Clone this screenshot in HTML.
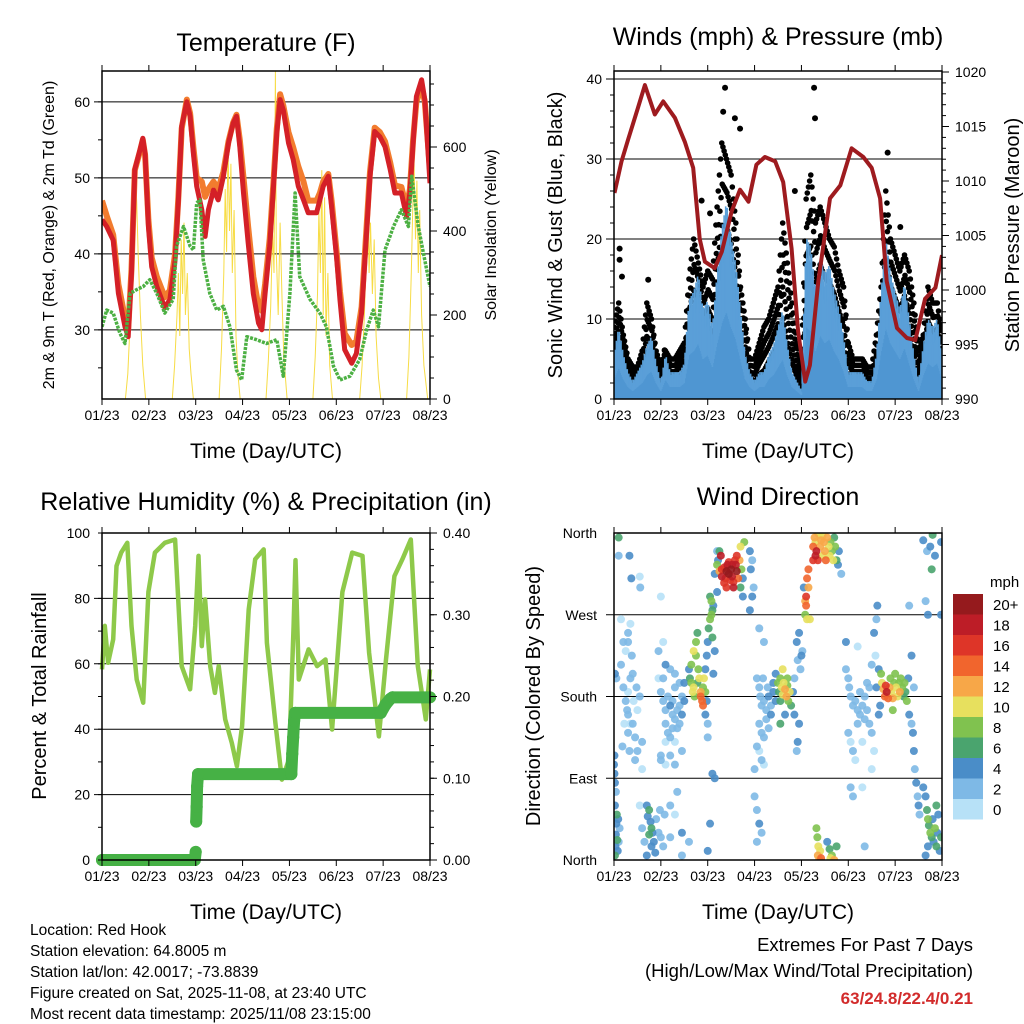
<!DOCTYPE html>
<html><head><meta charset="utf-8"><style>
html,body{margin:0;padding:0;background:#fff;}
svg{display:block;font-family:"Liberation Sans",Arial,sans-serif;}
</style></head><body>
<svg id="c" width="1024" height="1024" viewBox="0 0 1024 1024" xmlns="http://www.w3.org/2000/svg">
<g font-size="25" text-anchor="middle" fill="#000">
<text x="266" y="51">Temperature (F)</text>
<text x="778" y="45">Winds (mph) &amp; Pressure (mb)</text>
<text x="266" y="510">Relative Humidity (%) &amp; Precipitation (in)</text>
<text x="778" y="505">Wind Direction</text>
</g>
<g fill="#000" text-anchor="middle">
<text x="266" y="458" font-size="21">Time (Day/UTC)</text>
<text x="778" y="458" font-size="21">Time (Day/UTC)</text>
<text x="266" y="919" font-size="21">Time (Day/UTC)</text>
<text x="778" y="919" font-size="21">Time (Day/UTC)</text>
<text transform="translate(54,235) rotate(-90)" font-size="16">2m &amp; 9m T (Red, Orange) &amp; 2m Td (Green)</text>
<text transform="translate(496,235) rotate(-90)" font-size="16">Solar Insolation (Yellow)</text>
<text transform="translate(562,235) rotate(-90)" font-size="20">Sonic Wind &amp; Gust (Blue, Black)</text>
<text transform="translate(1019,235) rotate(-90)" font-size="20">Station Pressure (Maroon)</text>
<text transform="translate(46,696) rotate(-90)" font-size="20">Percent &amp; Total Rainfall</text>
<text transform="translate(540,696) rotate(-90)" font-size="20">Direction (Colored By Speed)</text>
</g>
<g font-size="15.5" fill="#000">
<text x="30" y="935">Location: Red Hook</text>
<text x="30" y="956">Station elevation: 64.8005 m</text>
<text x="30" y="977">Station lat/lon: 42.0017; -73.8839</text>
<text x="30" y="998">Figure created on Sat, 2025-11-08, at 23:40 UTC</text>
<text x="30" y="1019">Most recent data timestamp: 2025/11/08 23:15:00</text>
</g>
<g text-anchor="end">
<text x="973" y="951" font-size="18.5">Extremes For Past 7 Days</text>
<text x="973" y="977" font-size="18.5">(High/Low/Max Wind/Total Precipitation)</text>
<text x="973" y="1004" font-size="17" font-weight="bold" fill="#d22b2b">63/24.8/22.4/0.21</text>
</g>
<g id="dyn"></g>
</svg>
<script>
// ---------- DATA ----------
const dayTicks = ["01/23","02/23","03/23","04/23","05/23","06/23","07/23","08/23"];
const tDays = [0,0.10,0.24,0.35,0.49,0.56,0.63,0.70,0.81,0.87,0.92,0.99,1.06,1.17,1.34,1.45,1.56,1.63,1.70,1.81,1.88,1.95,2.02,2.13,2.20,2.27,2.38,2.48,2.59,2.70,2.80,2.87,2.94,3.02,3.12,3.23,3.34,3.41,3.48,3.58,3.66,3.73,3.80,3.87,3.98,4.08,4.19,4.30,4.40,4.58,4.65,4.72,4.83,4.90,5.01,5.08,5.18,5.33,5.43,5.54,5.61,5.72,5.82,5.93,6.04,6.15,6.25,6.39,6.50,6.57,6.64,6.71,6.82,6.89,7.0];
const temp2m = [44.5,43.6,41.8,34.8,30.4,29.1,37.5,51.1,53.7,55.2,53.2,43.6,38.3,35.7,32.9,34.0,39.2,47.1,56.8,60.0,58.1,53.2,48.9,45.8,42.3,45.8,48.4,47.1,50.2,54.6,57.2,58.1,54.1,48.0,41.4,34.8,30.9,30.0,34.8,41.0,48.9,55.9,60.3,58.9,54.6,52.4,48.9,47.1,45.4,45.4,47.1,48.9,50.2,46.2,39.2,33.9,27.4,25.6,26.9,32.2,39.2,50.2,56.1,55.4,54.1,51.1,48.0,48.0,44.9,48.0,54.6,60.7,62.9,60.3,49.3];
const temp9m = [47.0,45.0,42.5,36.0,31.5,30.0,38.0,51.0,53.5,55.0,53.0,44.5,39.5,37.0,34.3,35.2,40.0,47.5,56.5,60.3,58.5,54.0,50.0,49.5,47.5,48.5,49.5,48.5,50.8,54.8,57.3,58.3,55.0,50.0,43.5,37.0,33.0,32.5,36.0,42.0,49.5,56.5,61.0,59.5,56.0,54.0,51.5,49.5,47.0,47.0,48.0,49.5,50.5,47.0,40.0,35.0,29.5,28.0,28.5,33.0,40.0,50.8,56.6,56.0,54.8,52.0,49.0,48.8,46.0,48.5,55.0,60.0,62.0,60.0,51.0];
const tdDays = [0,0.10,0.24,0.38,0.49,0.60,0.74,0.88,1.02,1.17,1.34,1.52,1.59,1.74,1.88,1.95,2.02,2.09,2.16,2.30,2.45,2.59,2.73,2.87,2.98,3.09,3.30,3.51,3.73,3.87,4.01,4.12,4.22,4.44,4.65,4.79,4.94,5.08,5.29,5.50,5.65,5.79,5.90,6.04,6.22,6.39,6.54,6.61,6.75,6.86,7.0];
const dewpt = [30.4,32.6,32.2,29.6,28.2,34.8,35.3,35.7,36.6,34.8,32.2,34.0,41.0,43.6,41.0,40.5,46.7,47.1,39.2,34.8,32.6,33.1,30.4,24.7,23.4,29.1,28.7,28.2,28.7,23.9,34.8,48.0,37.0,34.0,32.2,30.4,25.2,23.4,23.9,26.1,30.0,32.6,30.4,40.5,43.6,45.8,43.6,50.2,43.6,40.1,35.7];
const solarDays = [0,0.5,0.55,0.6,0.64,0.68,0.71,0.74,0.77,0.82,0.87,0.93,1.5,1.55,1.6,1.63,1.66,1.69,1.72,1.75,1.78,1.82,1.86,1.9,1.95,2.5,2.55,2.6,2.63,2.66,2.69,2.72,2.75,2.78,2.82,2.86,2.9,2.95,3.5,3.55,3.6,3.64,3.67,3.7,3.72,3.76,3.8,3.84,3.88,3.95,4.5,4.55,4.6,4.63,4.66,4.69,4.72,4.75,4.78,4.82,4.86,4.92,5.5,5.55,5.6,5.64,5.67,5.7,5.73,5.77,5.81,5.85,5.9,5.95,6.5,6.55,6.6,6.63,6.66,6.69,6.72,6.75,6.78,6.82,6.87,6.95,7.0];
const solarVals = [0,0,60,180,330,450,540,470,350,200,80,0,0,80,200,300,150,380,250,420,200,300,120,60,0,0,120,300,500,350,610,400,560,300,450,150,60,0,0,90,220,400,300,780,350,200,420,250,100,0,0,100,250,450,300,545,200,480,150,300,80,0,0,80,200,350,466,300,420,250,380,150,50,0,0,100,300,450,560,380,520,300,450,200,80,0,0];
const windMean = [5,8,5,3,2,3,4,6,7,4,2,5,3,3,3,4,11,12,14,10,11,8,14,19,22,18,15,10,5,3,2,3,3,5,6,8,10,6,3,2,1,18,17,12,16,14,15,12,10,7,3,3,3,3,2,2,5,12,18,14,12,10,13,9,5,2,6,9,8,9,5];
const windGust = [9,12,8,5,4,4,6,12,10,6,4,6,5,5,6,7,15,20,17,14,16,15,24,32,30,28,22,14,10,5,5,7,9,10,12,14,22,17,12,7,4,25,28,22,24,22,20,19,16,14,7,5,5,5,4,4,8,14,26,20,18,16,18,16,12,6,8,14,12,12,8];
const gustOutDays = [2.37,2.33,2.58,2.69,4.27,4.29,0.12,0.12,0.17,0.73,2.05,3.86,5.84,6.11,1.87,1.08];
const gustOutVals = [38.9,35.9,35.1,33.8,38.9,35.1,18.8,17.4,15.3,14.9,23.2,26,30.8,21.5,24.8,6.1];
const presDays = [0.01,0.16,0.30,0.51,0.66,0.87,1.05,1.30,1.51,1.69,1.83,1.94,2.15,2.30,2.51,2.69,2.87,3.04,3.22,3.44,3.61,3.79,3.93,4.08,4.18,4.36,4.61,4.83,5.07,5.32,5.50,5.68,5.82,6.04,6.25,6.43,6.64,6.86,7.0];
const presVals = [1008.9,1011.8,1013.8,1016.7,1018.8,1016.1,1017.3,1015.8,1013.6,1011.2,1004.7,1002.6,1002.0,1003.5,1007.2,1009.2,1008.1,1011.5,1012.2,1011.8,1009.9,1003.8,996.2,991.6,993.1,1000.8,1008.4,1009.6,1013.0,1012.2,1011.2,1008.4,1000.8,996.5,995.6,995.4,999.2,1000.2,1003.2];
const rhDays = [0,0.06,0.13,0.24,0.31,0.41,0.54,0.63,0.74,0.88,0.99,1.13,1.34,1.56,1.70,1.88,1.99,2.06,2.13,2.20,2.31,2.41,2.49,2.63,2.77,2.88,2.99,3.13,3.27,3.45,3.52,3.70,3.84,3.99,4.09,4.13,4.20,4.41,4.59,4.77,4.91,5.13,5.34,5.56,5.70,5.91,6.06,6.24,6.41,6.59,6.74,6.91,7.0];
const rhVals = [58.3,71.6,60.3,67.5,89.9,94,97,71.6,55.2,48.1,82,94,97,98,59.3,52.2,71.6,93,65.4,79.7,59.3,51.1,59.3,43,35.8,28.7,41,76.6,92,95,66.4,41.9,24.6,30.7,71.6,91.7,55.2,64.4,59.3,61.3,39.9,82,94,93,63.4,37.8,61.3,86.8,92,98,59.3,43,58.3];
const precDays = [0,1.98,2.0,2.01,2.02,2.03,2.05,4.04,4.06,4.08,4.10,4.12,5.95,6.05,6.15,6.2,7.0];
const precVals = [0,0,0.01,0.047,0.065,0.09,0.105,0.105,0.13,0.15,0.17,0.18,0.18,0.19,0.197,0.199,0.199];
const windDirObs = [
[0.02,5,6],[0.03,15,4],[0.04,28,5],[0.05,40,4],[0.06,50,6],[0.02,60,4],[0.07,22,7],[0.08,10,4],[0.04,75,3],[0.01,95,4],[0.0,105,5],[0.01,115,4],[0.02,85,5],[0.1,20,3],[0.12,35,2],[0.09,45,4],
[0.1,355,6],[0.1,335,2],[0.33,335,4],[0.37,310,4],[0.55,312,1],[0.56,300,2],[1.0,290,1],
[0.02,205,4],[0.05,200,2],[0.15,215,3],[0.2,190,2],[0.3,185,1],[0.25,175,3],[0.3,160,2],[0.35,150,1],[0.3,140,2],[0.4,150,2],[0.45,135,3],[0.5,165,1],[0.5,120,2],[0.45,110,2],[0.6,130,2],[0.6,100,1],[0.55,180,2],[0.35,200,2],[0.25,230,1],[0.3,240,2],[0.38,225,3],[0.4,205,2],[0.28,165,2],[0.33,120,3],[0.42,175,1],[0.48,190,2],[0.22,150,1],[0.18,125,2],[0.2,240,3],[0.15,265,1],[0.3,250,2],[0.35,260,1],
[0.7,60,5],[0.72,48,4],[0.75,55,6],[0.78,42,4],[0.8,35,6],[0.82,30,5],[0.75,28,6],[0.85,20,4],[0.8,15,4],[0.88,8,5],[0.9,45,3],[0.95,30,2],[1.0,25,3],[1.05,15,2],[0.65,20,2],[0.7,5,4],[0.6,35,2],[1.08,50,2],[0.55,60,1],[0.98,55,3],[1.2,60,2],[1.3,50,1],[1.2,25,2],[1.45,30,4],[1.45,5,3],[1.6,20,2],[1.35,75,2],
[1.0,185,3],[1.05,175,2],[1.1,165,3],[1.15,180,2],[1.2,170,4],[1.25,160,3],[1.3,155,2],[1.25,175,3],[1.35,165,3],[1.4,170,2],[1.45,180,3],[1.5,175,4],[1.1,150,2],[1.15,140,3],[1.2,135,2],[1.3,130,1],[1.35,145,3],[1.1,130,1],[1.0,115,2],[1.2,115,2],[1.4,195,3],[1.5,195,4],[1.3,190,3],[1.05,200,2],[1.25,145,2],[1.4,150,3],[1.45,160,4],[0.95,230,2],[1.05,240,1],[1.1,215,4],[1.2,210,3],[1.3,205,3],[0.95,200,1],[1.0,110,3],[1.1,105,1],[1.3,105,2],[1.45,120,2],
[1.6,210,4],[1.62,200,6],[1.65,195,9],[1.68,185,10],[1.7,190,11],[1.72,180,9],[1.75,225,8],[1.75,240,8],[1.78,250,7],[1.8,210,9],[1.82,200,10],[1.85,185,12],[1.88,175,15],[1.85,180,14],[1.9,170,14],[1.9,190,9],[1.92,200,11],[1.7,230,10],[1.65,215,8],[1.78,195,6],[1.95,185,8],[1.98,175,4],[1.95,160,4],[2.0,150,3],
[1.95,210,4],[1.98,225,4],[2.0,240,5],[2.02,255,6],[2.05,265,8],[2.08,270,8],[2.1,275,7],[2.05,290,7],[2.08,285,9],[2.12,280,5],[2.1,245,6],[2.15,230,5],[2.12,205,4],[2.1,95,4],[2.15,90,5],[2.05,40,4],[2.0,10,4],[2.15,315,4],[2.2,340,2],[2.0,135,2],
[2.2,325,9],[2.25,318,12],[2.28,335,19],[2.3,320,17],[2.35,322,17],[2.38,310,16],[2.4,318,20],[2.42,325,18],[2.45,315,20],[2.48,308,17],[2.5,320,20],[2.52,312,18],[2.55,306,16],[2.58,330,16],[2.6,325,18],[2.62,318,20],[2.62,335,16],[2.65,310,15],[2.68,330,12],[2.7,345,10],[2.72,320,8],[2.7,300,7],[2.75,290,5],[2.75,310,4],[2.35,305,16],[2.45,328,17],[2.55,300,18],[2.3,312,18],[2.4,300,16],[2.52,325,19],[2.22,330,4],[2.2,295,4],[2.78,350,8],[2.25,340,6],
[2.9,340,4],[2.95,330,2],[2.92,320,4],[2.95,290,4],[2.98,300,2],[2.9,275,4],
[3.05,200,3],[3.1,190,2],[3.12,180,3],[3.15,170,2],[3.2,175,3],[3.25,165,2],[3.3,180,4],[3.35,170,3],[3.4,185,4],[3.45,175,4],[3.1,150,2],[3.15,140,3],[3.2,135,2],[3.25,155,3],[3.3,145,2],[3.35,160,4],[3.4,195,5],[3.45,205,4],[3.05,125,2],[3.1,120,1],[3.15,110,2],[3.2,105,1],[3.0,70,2],[3.05,55,3],[3.1,40,4],[3.15,30,3],[3.05,20,2],[3.0,100,2],[3.2,240,3],[3.1,255,2],[3.18,200,3],[3.28,190,2],
[3.5,195,8],[3.52,185,6],[3.55,200,9],[3.58,190,10],[3.6,182,11],[3.62,195,10],[3.65,188,12],[3.68,180,12],[3.7,192,9],[3.72,175,8],[3.75,185,10],[3.78,170,6],[3.6,210,11],[3.55,175,6],[3.7,200,8],[3.65,160,4],[3.55,150,6],[3.82,185,4],[3.85,160,4],[3.85,200,3],
[3.9,240,4],[3.92,220,3],[3.95,250,4],[3.98,210,3],[4.0,225,4],[4.02,230,3],[4.05,300,5],[4.08,270,9],[4.1,280,14],[4.12,265,10],[4.1,290,16],[4.15,300,12],[4.12,310,14],[4.08,285,13],[4.15,320,15],[4.18,265,11],[3.95,150,4],[3.92,130,4],[3.9,120,2],
[4.25,345,15],[4.28,355,12],[4.3,350,10],[4.32,340,18],[4.35,330,17],[4.38,358,11],[4.4,345,13],[4.42,352,12],[4.45,335,10],[4.48,350,13],[4.5,340,12],[4.55,355,13],[4.58,345,10],[4.6,335,11],[4.62,350,9],[4.65,340,8],[4.68,330,10],[4.7,355,6],[4.72,345,8],[4.75,330,6],[4.78,325,4],[4.8,340,4],[4.85,315,2],[4.45,357,11],[4.52,330,14],[4.35,360,10],[4.25,330,16],[4.3,335,18],
[4.32,35,8],[4.34,25,9],[4.36,15,10],[4.35,5,12],[4.38,0,13],[4.4,10,11],[4.42,2,14],[4.6,12,6],[4.65,5,8],[4.7,0,12],[4.75,15,6],[4.62,2,10],[4.55,20,4],
[4.95,210,3],[5.0,200,2],[5.02,190,3],[5.05,180,2],[5.1,170,3],[5.15,175,2],[5.2,165,3],[5.25,160,2],[5.3,170,3],[5.35,155,2],[5.4,165,3],[5.45,150,2],[5.0,140,2],[5.05,130,1],[5.1,120,2],[5.15,110,1],[5.2,150,2],[5.3,130,1],[5.5,140,2],[5.55,120,1],[5.25,185,2],[5.35,180,2],[5.4,195,2],[5.05,80,2],[5.1,70,3],[5.3,80,1],[5.35,15,2],[5.5,100,1],[5.45,190,3],[5.5,215,2],[5.2,235,1],[4.95,240,4],
[5.55,250,4],[5.6,265,2],[5.62,280,4],[5.58,225,1],[5.65,210,4],[5.6,190,4],
[5.7,205,8],[5.72,195,10],[5.75,188,12],[5.78,180,14],[5.8,192,16],[5.82,185,18],[5.85,178,14],[5.88,190,12],[5.9,200,8],[5.92,185,10],[5.95,178,12],[5.98,195,8],[6.0,205,8],[6.02,190,10],[6.05,180,10],[6.08,195,9],[6.1,185,12],[6.12,200,8],[6.15,190,9],[6.18,180,7],[6.2,195,8],[6.22,185,6],[6.25,175,8],[5.68,170,4],[5.65,160,4],[6.28,200,4],[5.95,165,9],
[6.3,160,4],[6.35,150,2],[6.38,140,4],[6.4,120,4],[6.42,100,3],[6.45,85,4],[6.48,70,2],[6.5,60,4],[6.52,50,2],[6.3,280,2],[6.35,225,4],[6.4,190,2],
[6.6,80,4],[6.65,70,4],[6.68,55,6],[6.7,45,8],[6.72,38,6],[6.75,30,8],[6.78,25,6],[6.8,45,4],[6.82,20,4],[6.85,35,8],[6.88,15,6],[6.9,30,4],[6.92,50,4],[6.95,10,4],[6.98,25,6],[6.65,5,4],[6.7,15,4],[6.88,60,6],
[6.6,352,4],[6.68,340,2],[6.8,358,6],[6.75,345,4],[6.85,335,4],[6.78,320,6],[6.7,270,4],[6.65,285,2],[6.98,350,4],[6.98,270,4]
];
const speedBins = ["0","2","4","6","8","10","12","14","16","18","20+"];
const speedColors = ["#b7e1f7","#7eb9e6","#4a8dc8","#4aa46e","#80c24f","#e7e05e","#f7a748","#f1652d","#de3528","#bd1d27","#951a1d"];

// ---------- RENDER ----------
const NS="http://www.w3.org/2000/svg";
const root=document.getElementById('dyn');
function mk(tag,attrs,parent){const e=document.createElementNS(NS,tag);for(const k in attrs)e.setAttribute(k,attrs[k]);(parent||root).appendChild(e);return e;}
function grp(name){const g=mk('g',{});return g;}
function pts(xs,ys,fx,fy){return xs.map((d,i)=>fx(d).toFixed(1)+','+fy(ys[i]).toFixed(1)).join(' ');}

function frame(L,T,R,B,name){
  const g=grp(name);
  mk('rect',{x:L,y:T,width:R-L,height:B-T,fill:'none',stroke:'#000','stroke-width':1.5},g);
  const step=(R-L)/7;
  const tg=grp(name+'-x-ticks');
  for(let i=0;i<8;i++){const x=L+i*step;
    mk('line',{x1:x,y1:B,x2:x,y2:B+6,stroke:'#000','stroke-width':1},tg);
    mk('line',{x1:x,y1:T,x2:x,y2:T-6,stroke:'#000','stroke-width':1},tg);
    const t=mk('text',{x:x,y:B+21,'font-size':14,'text-anchor':'middle'},tg);t.textContent=dayTicks[i];
    
    
  }
}
function hgrid(L,R,ys,name){const g=grp(name);ys.forEach(y=>mk('line',{x1:L-8,y1:y,x2:R,y2:y,stroke:'#000','stroke-width':1},g));}
function leftLabels(x,vals,fy,name,mn,mx,minorStep,L){
  const g=grp(name);
  vals.forEach(v=>{const t=mk('text',{x:x,y:fy(v)+5,'font-size':14,'text-anchor':'end'},g);t.textContent=v;
    
    });
  if(minorStep){for(let v=mn;v<=mx+1e-6;v+=minorStep){mk('line',{x1:L-4,y1:fy(v),x2:L,y2:fy(v),stroke:'#000'},g);}}
}
function rightLabels(x,vals,labels,fy,name,mn,mx,minorStep,R){
  const g=grp(name);
  vals.forEach((v,i)=>{const t=mk('text',{x:x,y:fy(v)+5,'font-size':14,'text-anchor':'start'},g);t.textContent=labels[i];
    
    
    mk('line',{x1:R,y1:fy(v),x2:R+7,y2:fy(v),stroke:'#000'},g);});
  for(let v=mn;v<=mx+1e-6;v+=minorStep){mk('line',{x1:R,y1:fy(v),x2:R+4,y2:fy(v),stroke:'#000'},g);}
}

// Panel 1
(function(){
  const L=102,R=430,T=71,B=399,step=(R-L)/7;
  const X=d=>L+d*step, Y=t=>399-(t-20.9)*7.6, S=v=>399-v*0.42;
  const clip=mk('clipPath',{id:'cp1'});mk('rect',{x:L,y:T,width:R-L,height:B-T},clip);
  hgrid(L,R,[30,40,50,60].map(Y),'temp-gridlines');
  const g=grp('temperature-series');g.setAttribute('clip-path','url(#cp1)');
  const sol=mk('polyline',{points:pts(solarDays,solarVals,X,S),fill:'none',stroke:'#f7dc45','stroke-width':1},g);
  
  
  const o=mk('polyline',{points:pts(tDays,temp9m,X,Y),fill:'none',stroke:'#f27c2e','stroke-width':6,'stroke-linejoin':'round'},g);
  
  
  const r=mk('polyline',{points:pts(tDays,temp2m,X,Y),fill:'none',stroke:'#d42027','stroke-width':5,'stroke-linejoin':'round'},g);
  
  
  const gr=mk('polyline',{points:pts(tdDays,dewpt,X,Y),fill:'none',stroke:'#4cb043','stroke-width':3.5,'stroke-dasharray':'3 1.2','stroke-linejoin':'round'},g);
  
  
  frame(L,T,R,B,'temp-frame');
  leftLabels(90,[30,40,50,60],Y,'temp-y-ticks',25,60,5,L);
  rightLabels(443,[0,200,400,600],['0','200','400','600'],S,'solar-y-ticks',0,750,50,R);
})();

// Panel 2
(function(){
  const L=614,R=942,T=71,B=399,step=(R-L)/7;
  const X=d=>L+d*step, Y=m=>399-m*8, P=p=>399-(p-990)*10.9;
  const clip=mk('clipPath',{id:'cp2'});mk('rect',{x:L,y:T,width:R-L,height:B-T},clip);
  hgrid(L,R,[10,20,30,40].map(Y),'wind-gridlines');
  const g=grp('wind-series');g.setAttribute('clip-path','url(#cp2)');
  const gd=grp('gust-dots');g.appendChild(gd);
  const n=windMean.length;
  for(let i=0;i<n-1;i++){
    for(let j=0;j<4;j++){
      const f=j/4, d=(i+f)*0.1;
      const b=windMean[i]+(windMean[i+1]-windMean[i])*f;
      const gu=windGust[i]+(windGust[i+1]-windGust[i])*f;
      for(let k=0;k<=4;k++){
        const v=b*0.6+(gu-b*0.6)*k/4;
        mk('circle',{cx:X(d+((k%2)?0.01:0)),cy:Y(v),r:2.8,fill:'#000'},gd);
      }
    }
  }
  gustOutDays.forEach((d,i)=>{const c=mk('circle',{cx:X(d),cy:Y(gustOutVals[i]),r:3,fill:'#000'},gd);
    
    });
  const wd=windMean.map((v,i)=>i*0.1);
  const area=mk('polygon',{points:X(0)+','+Y(0)+' '+pts(wd,windMean,X,Y)+' '+X(7)+','+Y(0),fill:'#4f96d2'},g);
  
  
  // jagged edge
  const jg=grp('sonic-wind-jitter');g.appendChild(jg);
  for(let i=0;i<n-1;i++){for(let j=0;j<6;j++){const f=j/6,d=(i+f)*0.1;
    const b=windMean[i]+(windMean[i+1]-windMean[i])*f;
    mk('line',{x1:X(d),y1:Y(b*(j%2?1.12:0.85)),x2:X(d),y2:Y(b*0.5),stroke:'#5a9fd8','stroke-width':1.6},jg);}}
  const pl=mk('polyline',{points:pts(presDays,presVals,X,P),fill:'none',stroke:'#9e1b1f','stroke-width':4,'stroke-linejoin':'round'},g);
  
  
  frame(L,T,R,B,'wind-frame');
  leftLabels(602,[0,10,20,30,40],Y,'wind-y-ticks',0,40,2,L);
  rightLabels(955,[990,995,1000,1005,1010,1015,1020],['990','995','1000','1005','1010','1015','1020'],P,'pressure-y-ticks',990,1020,1,R);
})();

// Panel 3
(function(){
  const L=102,R=430,T=533,B=860,step=(R-L)/7;
  const X=d=>L+d*step, Y=r=>860-r*3.27, PR=v=>860-v*817.5;
  const clip=mk('clipPath',{id:'cp3'});mk('rect',{x:L-8,y:T,width:R-L+16,height:B-T+8},clip);
  hgrid(L,R,[20,40,60,80].map(Y),'rh-gridlines');
  const g=grp('rh-series');g.setAttribute('clip-path','url(#cp3)');
  const rl=mk('polyline',{points:pts(rhDays,rhVals,X,Y),fill:'none',stroke:'#8ec94a','stroke-width':4.5,'stroke-linejoin':'round'},g);
  
  
  const pg=grp('precip-series');g.appendChild(pg);
  for(let i=0;i<precDays.length-1;i++){
    if(precVals[i+1]-precVals[i]<0.03){
      mk('line',{x1:X(precDays[i]),y1:PR(precVals[i]),x2:X(precDays[i+1]),y2:PR(precVals[i+1]),stroke:'#46b145','stroke-width':12,'stroke-linecap':'round'},pg);
    }
  }
  precDays.forEach((d,i)=>{const c=mk('circle',{cx:X(d),cy:PR(precVals[i]),r:6,fill:'#46b145'},pg);
    
    });
  frame(L,T,R,B,'rh-frame');
  leftLabels(90,[0,20,40,60,80,100],Y,'rh-y-ticks',0,100,10,L);
  rightLabels(443,[0,0.1,0.2,0.3,0.4],['0.00','0.10','0.20','0.30','0.40'],PR,'precip-y-ticks',0,0.4,0.02,R);
})();

// Panel 4
(function(){
  const L=614,R=942,T=533,B=860,step=(R-L)/7;
  const X=d=>L+d*step, Y=a=>860-a*(327/360);
  const clip=mk('clipPath',{id:'cp4'});mk('rect',{x:L,y:T,width:R-L,height:B-T},clip);
  hgrid(L,R,[270,180,90].map(Y),'dir-gridlines');
  const g=grp('wind-direction-points');g.setAttribute('clip-path','url(#cp4)');
  const order=windDirObs.slice().sort((a,b)=>a[2]-b[2]);
  order.forEach(o=>{
    const bin=Math.min(10,Math.max(0,Math.floor(o[2]/2)));
    const c=mk('circle',{cx:X(o[0]),cy:Y(o[1]),r:4,fill:speedColors[bin],'fill-opacity':0.9},g);
    
    
  });
  frame(L,T,R,B,'dir-frame');
  const lg=grp('dir-y-ticks');
  [['North',360],['West',270],['South',180],['East',90],['North',0]].forEach(p=>{
    const t=mk('text',{x:597,y:Y(p[1])+5,'font-size':14,'text-anchor':'end'},lg);t.textContent=p[0];
    
    
  });
  const cb=grp('speed-legend');
  const t=mk('text',{x:990,y:587,'font-size':15,'text-anchor':'start'},cb);t.textContent='mph';
  
  
  for(let i=0;i<11;i++){
    const y=594+(10-i)*20.5;
    const r=mk('rect',{x:953,y:y,width:30,height:20.5,fill:speedColors[i]},cb);
    
    
    const tx=mk('text',{x:993,y:y+16,'font-size':15,'text-anchor':'start'},cb);tx.textContent=speedBins[i];
    
    
  }
})();
</script>
</body></html>
